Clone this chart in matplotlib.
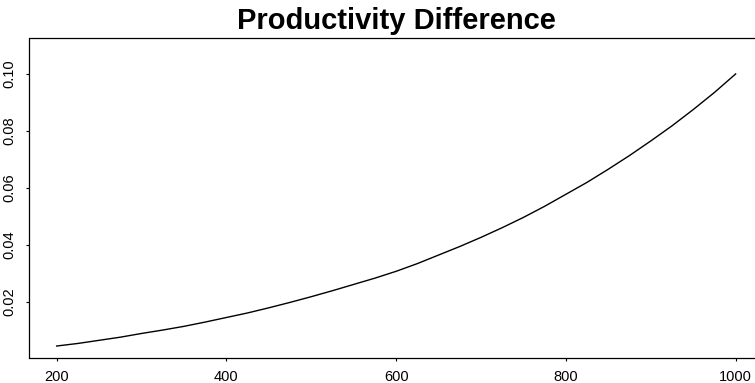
import matplotlib
matplotlib.use("Agg")
import matplotlib.pyplot as plt

plt.rcParams['font.family'] = ['Liberation Sans', 'DejaVu Sans']

# Data
x_vals = [200, 225, 250, 275, 300, 325, 350, 375, 400, 425, 450, 475, 500, 525, 550, 575,
          600, 625, 650, 675, 700, 725, 750, 775, 800, 825, 850, 875, 900, 925, 950, 975, 1000]
y_vals = [0.0046, 0.0055, 0.0066, 0.0077, 0.0090, 0.0102, 0.0115, 0.0130, 0.0146, 0.0162,
          0.0180, 0.0199, 0.0219, 0.0240, 0.0262, 0.0284, 0.0308, 0.0335, 0.0365, 0.0395,
          0.0427, 0.0461, 0.0497, 0.0536, 0.0578, 0.0620, 0.0666, 0.0714, 0.0765, 0.0818,
          0.0875, 0.0935, 0.1000]
x_ticks = [200, 400, 600, 800, 1000]
y_ticks = [0.02, 0.04, 0.06, 0.08, 0.10]
y_tick_labels = ["0.02", "0.04", "0.06", "0.08", "0.10"]
title = "Productivity Difference"

fig = plt.figure(figsize=(7.55, 3.83), dpi=100)
ax = fig.add_axes([29.5 / 755, 25 / 383, 733.3 / 755, 320 / 383])
ax.plot(x_vals, y_vals, color='black', linewidth=1.0)

ax.set_xlim(168, 1032)
ax.set_ylim(0.0004, 0.1126)
ax.set_xticks(x_ticks)
ax.set_xticklabels([str(v) for v in x_ticks])
ax.set_yticks(y_ticks)
ax.set_yticklabels(y_tick_labels, rotation=90, va='center')

for s in ax.spines.values():
    s.set_linewidth(0.9)
    s.set_color('black')

ax.tick_params(axis='both', which='major', length=2.5, width=0.8, labelsize=10.5,
               colors='black')
ax.tick_params(axis='x', pad=6)
ax.tick_params(axis='y', pad=7)

ax.set_title(title, fontsize=21, fontweight='bold', pad=6.5)

fig.savefig("out.png", dpi=100)
